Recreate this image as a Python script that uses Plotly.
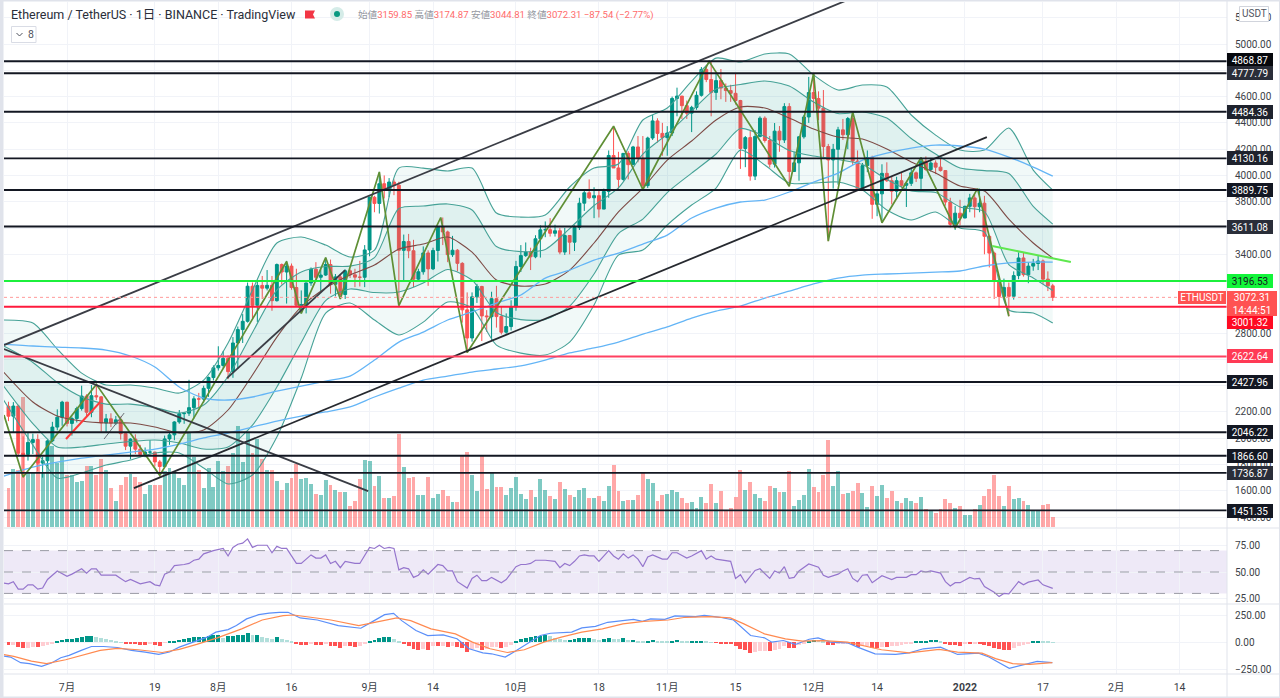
import pandas as pd
import plotly.graph_objects as go

BASE = pd.Timestamp("2021-06-19")
def day(i):
    return BASE + pd.Timedelta(hours=round(float(i) * 24))
def days(seq):
    return [day(i) for i in seq]

OPEN = [2243,2168,2245,1886,1877,1968,1990,1811,1829,1980,2085,2160,
2275,2113,2150,2226,2321,2198,2324,2315,2116,2148,2115,2140,2035,1940,1994,1917,1876,1895,1895,1820,1785,1995,2026,2124,2187,2191,2233,2300,2298,2380,2462,
2536,2554,2608,2507,2725,2827,2890,3157,3012,3163,3142,3164,3047,3322,3265,3310,3147,3012,3017,3182,3286,3225,3242,3322,3172,3228,3094,3274,3244,3226,3225,
3433,3834,3787,3937,3887,3950,3926,3430,3497,3427,3211,3267,3410,3289,3429,3611,3570,3397,3431,3331,2977,2763,3076,3155,2931,2925,3062,2926,2807,2850,
3000,3307,3390,3417,3381,3518,3586,3587,3560,3579,3417,3543,3492,3605,3789,3868,3830,3846,3744,3878,4152,4057,3970,4168,4082,4217,4130,3923,4285,4415,4320,
4288,4323,4586,4604,4531,4474,4518,4610,4807,4730,4632,4722,4665,4646,4625,4570,4205,4288,3995,4297,4436,4266,4086,4337,4270,4524,4030,4096,4294,4445,
4631,4586,4512,4220,4118,4199,4347,4310,4433,4110,3889,4075,4135,3780,3860,4016,3960,3880,3960,3925,3940,4020,3978,4109,4045,4095,4063,4037,3798,3628,3713,
3676,3765,3829,3762,3789,3537,3409,3198,3079,3148,3080,3238,3372,3245,3310,3330,3349,3211,3159.85]
HIGH = [2278,2275,2255,2015,2044,2035,2030,1860,1990,2125,2220,2285,
2275,2165,2240,2400,2335,2405,2410,2322,2185,2190,2170,2165,2045,2000,2030,1950,1930,1985,1895,1835,2020,2045,2130,2215,2195,2445,2320,2345,2400,2470,2555,
2700,2665,2630,2770,2850,2945,3185,3185,3190,3235,3280,3235,3330,3330,3350,3330,3290,3125,3185,3300,3340,3285,3375,3360,3250,3250,3285,3285,3290,3350,3470,
3840,3845,4027,4000,3980,3970,3952,3550,3555,3510,3290,3460,3430,3450,3615,3680,3580,3540,3440,3340,3110,3110,3175,3160,2975,3115,3160,3005,2950,3050,
3350,3470,3490,3450,3545,3620,3650,3675,3625,3600,3600,3545,3620,3830,3890,3970,3910,3890,3900,4190,4375,4180,4170,4185,4225,4300,4300,4295,4460,4435,4400,
4375,4600,4668,4605,4570,4530,4640,4825,4840,4868,4780,4810,4700,4690,4772,4575,4300,4340,4345,4450,4450,4300,4399,4376,4550,4550,4180,4300,4460,4750,
4778,4640,4650,4240,4240,4370,4430,4445,4484,4190,4095,4190,4150,3885,4085,4100,3990,3990,4020,3950,4050,4030,4135,4145,4125,4115,4130,4040,3830,3767,3815,
3770,3860,3855,3900,3845,3450,3420,3235,3215,3185,3270,3415,3415,3340,3365,3390,3360,3270,3174.87]
LOW = [2130,2044,1860,1700,1830,1880,1750,1700,1790,1970,2060,2095,
2090,2020,2120,2210,2160,2160,2290,2050,2040,2085,2100,1990,1910,1840,1880,1855,1855,1875,1785,1718,1775,1950,1985,2110,2110,2170,2150,2230,2270,2315,2440,
2515,2535,2450,2460,2530,2725,2880,2915,2885,3060,3125,2970,3040,3170,3025,3130,3000,2950,2950,3160,3200,3120,3235,3100,3080,3060,3060,3220,3150,3155,3150,
3385,3720,3710,3825,3835,3850,3010,3200,3370,3150,3190,3245,3160,3280,3345,3470,3340,3380,3270,2880,2650,2735,3030,2740,2810,2740,2842,2790,2795,2820,
2970,3265,3380,3280,3370,3375,3530,3535,3535,3400,3395,3400,3425,3585,3730,3820,3675,3680,3745,3830,4060,3890,3960,3970,4080,4100,3890,3905,4270,4250,4150,
4150,4300,4450,4430,4430,4330,4500,4600,4710,4450,4575,4580,4560,4560,4540,4050,4063,3960,3965,4290,4250,4060,4060,4180,4247,3918,4030,3960,4280,4400,
4490,4420,4140,3500,3900,3930,4270,4200,4080,3885,3895,4025,3670,3690,3640,3950,3780,3820,3905,3760,3920,3950,3897,4035,4030,4010,4030,3770,3605,3585,3620,
3675,3720,3680,3720,3400,3300,3060,2995,3055,2928,3055,3210,3230,3180,3275,3280,3175,3120,3044.81]
CLOSE = [2168,2245,1886,1877,1968,1990,1811,1829,1980,2085,2160,2275,
2113,2150,2226,2321,2198,2324,2315,2116,2148,2115,2140,2035,1940,1994,1917,1876,1895,1895,1820,1785,1995,2026,2124,2187,2191,2233,2300,2298,2380,2462,2536,
2554,2608,2507,2725,2827,2890,3157,3012,3163,3142,3164,3047,3322,3265,3310,3147,3012,3017,3182,3286,3225,3242,3322,3172,3228,3094,3274,3244,3226,3225,3433,
3834,3787,3937,3887,3950,3926,3430,3497,3427,3211,3267,3410,3289,3429,3611,3570,3397,3431,3331,2977,2763,3076,3155,2931,2925,3062,2926,2807,2850,3000,
3307,3390,3417,3381,3518,3586,3587,3560,3579,3417,3543,3492,3605,3789,3868,3830,3846,3744,3878,4152,4057,3970,4168,4082,4217,4130,3923,4285,4415,4320,4288,
4323,4586,4604,4531,4474,4518,4610,4807,4730,4632,4722,4665,4646,4625,4570,4205,4288,3995,4297,4436,4266,4086,4337,4270,4524,4030,4096,4294,4445,4631,
4586,4512,4220,4118,4199,4347,4310,4433,4110,3889,4075,4135,3780,3860,4016,3960,3880,3960,3925,3940,4020,3978,4109,4045,4095,4063,4037,3798,3628,3713,3676,
3765,3829,3762,3789,3537,3409,3198,3079,3148,3080,3238,3372,3245,3310,3330,3349,3211,3159.85,3072.31]
VOLUME = [39,58,57,130,55,55,74,54,64,81,64,71,52,52,45,46,61,61,52,68,57,39,26,42,50,53,50,45,33,42,42,42,56,59,55,49,42,94,70,57,39,59,40,66,56,61,74,101,65,94,74,88,68,57,57,46,37,44,49,63,48,49,43,33,32,47,42,37,35,35,21,26,48,67,66,41,51,29,29,31,93,60,49,50,32,32,50,29,33,37,31,25,25,71,75,52,36,72,38,54,40,40,32,39,50,33,28,
37,30,48,37,31,28,45,38,32,30,37,39,29,29,31,26,41,62,36,26,27,27,32,55,48,44,26,32,33,37,35,29,24,25,19,30,24,43,24,36,17,19,30,57,37,45,33,29,26,41,39,35,35,56,21,27,32,58,40,35,52,87,41,56,33,34,36,44,34,20,41,31,42,29,36,26,24,29,26,24,30,18,17,14,18,28,24,19,21,12,12,18,22,31,38,52,31,21,41,28,29,26,22,17,17,22,23,10]

BAND_DAYS = [-1,5,10,15,20,25,30,35,40,45,50,55,60,65,70,75,80,85,90,95,100,105,110,115,120,125,130,135,140,145,150,155,160,165,170,175,180,185,190,195,200,205,210,214]
BB_UPPER = [2900,2877,2679,2496,2405,2405,2382,2344,2443,2725,3128,3486,3532,3470,3379,3432,4056,4056,4034,4056,3714,3683,3699,3912,4056,4087,4422,4513,4718,4893,4863,4924,4924,4764,4650,4688,4673,4460,4307,4193,4193,4361,4041,3889]
BB_INNER_UP = [2702,2577,2424,2314,2260,2260,2234,2192,2253,2470,2805,3128,3266,3307,3310,3375,3748,3767,3783,3737,3459,3420,3437,3596,3771,3905,4163,4315,4490,4658,4692,4719,4680,4559,4471,4483,4437,4281,4163,4056,4037,4015,3764,3630]
BB_MID = [2504,2276,2169,2131,2116,2116,2085,2040,2063,2215,2481,2770,3000,3143,3242,3318,3440,3478,3531,3417,3204,3158,3174,3280,3486,3722,3904,4117,4262,4422,4521,4513,4437,4353,4292,4277,4201,4102,4018,3919,3881,3668,3486,3371]
BB_INNER_LOW = [2398,2112,1933,1933,1956,1975,1987,1964,1918,1934,2100,2390,2729,3048,3136,3109,3113,3181,3284,3204,2957,2903,2904,3006,3250,3558,3668,3870,4018,4163,4357,4296,4190,4148,4121,4083,3969,3882,3870,3760,3725,3322,3220,3124]
BB_LOWER = [2291,1948,1697,1735,1796,1834,1888,1888,1773,1652,1720,2009,2458,2953,3029,2900,2786,2884,3037,2991,2709,2648,2633,2732,3014,3394,3432,3623,3775,3904,4193,4079,3942,3942,3950,3889,3737,3661,3722,3600,3569,2976,2953,2877]
MA_100 = [2717,2702,2694,2687,2671,2626,2542,2390,2306,2291,2314,2359,2397,2435,2473,2595,2732,2808,2900,2961,3029,3090,3219,3280,3356,3409,3478,3546,3676,3752,3798,3813,3874,3950,4018,4117,4170,4208,4231,4224,4201,4140,4064,3995]
MA_200 = [1712,1781,1819,1849,1872,1895,1918,1956,2002,2040,2085,2131,2169,2200,2238,2314,2382,2443,2473,2504,2527,2550,2595,2649,2687,2732,2793,2847,2915,2968,3006,3067,3120,3174,3219,3242,3250,3257,3265,3273,3311,3334,3341,3341]

ZIG_DAYS = [-0.9,3,18,31,57,60,65,68,76,80,88.6,94,124,130,143.6,160,165,168,173,179,187,194,198.6,205]
ZIG_PRICE = [2177,1705,2410,1718,3345,2950,3375,3060,4027,3010,3680,2652,4375,3893,4868,3918,4778,3500,4484,3640,4135,3600,3900,2928]
CHANNEL_UP_DAYS, CHANNEL_UP_PRICE = [-0.9,171.4], [2709,5327]
CHANNEL_LOW_DAYS, CHANNEL_LOW_PRICE = [25.7,200.5], [1621,4292]
CHANNEL_MID_DAYS, CHANNEL_MID_PRICE = [44.8,69], [2458,3280]
FALL_DAYS, FALL_PRICE = [-0.9,73.7], [2679,1598]
SMALL_DAYS, SMALL_PRICE = [19.6,23.7], [1994,2192]
RED_DAYS, RED_PRICE = [11.8,18.8], [1994,2276]
LIME_DAYS, LIME_PRICE = [201.6,217.7], [3463,3341]

LEVELS = [4868.87,4777.79,4484.36,4130.16,3889.75,3611.08,3196.53,3001.32,2622.64,2427.96,2046.22,1866.60,1736.87,1451.35]
LEVEL_COLORS = ["#131722"]*6 + ["#1cf03c","#ff1a3c","#ff4060"] + ["#131722"]*5

RSI_DAYS = [-1,0,1,2,3,4,5,6,7,8,10,12,13,15,16,17,18,19,20,21,22,23,24,25,27,29,30,31,32,33,34,36,37,38,39,40,42,44,45,46,47,48,49,50,51,53,54,55,56,57,59,60,62,63,64,65,66,67,68,69,71,72,74,75,76,77,78,79,80,81,82,83,84,85,86,88,89,90,91,92,94,95,96,97,98,99,101,102,103,104,105,106,107,108,110,112,113,114,115,116,117,118,119,120,121,123,124,125,126,127,128,129,130,131,132,134,135,136,137,139,140,142,143,144,145,148,149,150,151,153,154,156,157,158,159,160,161,162,164,166,167,168,170,171,172,173,174,175,176,177,179,181,182,184,185,186,187,188,189,191,192,193,194,195,197,198,199,200,202,203,204,205,207,208,209,211,212,214]
RSI = [39.7,39,41,34,34,38,38,34,35,43,51,46,48,53,49,53,53,47,47,47,47,44,41,43,39,41,38,37,48,50,56,57,58,61,62,67,70,72,65,73,76,77,81,73,75,75,68,74,72,72,58,58,66,63,63,66,58,60,54,60,58,58,73,72,75,72,73,72,52,54,53,45,47,52,48,57,56,51,51,41,35,44,47,42,42,45,40,43,49,55,57,57,58,61,61,60,54,58,56,60,65,66,65,65,60,70,65,62,67,63,66,62,55,64,66,62,62,68,68,63,65,70,62,65,62,60,44,47.5,40,51.5,53,44,51,49,55,44,45,51,57.5,54.5,47,45,48,51,53,44,41,47,47.5,40,46.5,43,45,45,47.5,47.5,51,50,51,49,41,37,40,40,45,43.5,44,36.5,31,27,30,29.5,41,38,40.5,42.5,38,34.7]
RSI_LEVELS = [70,50,30]

MACD_DAYS = [-1,0.4,2.5,4.3,6.8,8.9,10.7,12.4,14.9,17,19.5,22.3,25.2,28,30.8,33,35,37.9,40.7,42.5,45,46.7,48.8,51.3,53.4,55.5,57.3,59.8,63.3,67.6,72.2,74.6,77.1,78.9,80.6,83.5,85.9,89.1,91.9,94.4,97.2,99,101.8,103.6,105.7,107.4,109,111.1,115.4,117.5,120.3,122.8,125.3,128.1,129.9,131.6,134.5,136.6,140.8,142.6,145.8,148.6,152.1,154.9,156.4,158.8,161.3,164.1,165.9,168.4,171.9,174,177.6,181.8,184.6,187.5,191,194.5,198.8,200.9,205.1,208.6,210.8,213.9]
MACD = [-125,-134,-186,-195,-220,-186,-140,-119,-73,-37,-37,-46,-73,-88,-110,-88,-43,3,49,95,119,156,217,256,271,278,278,226,207,156,131,192,256,268,201,110,64,70,34,-58,-95,-104,-134,-88,-27,18,64,85,95,134,149,186,201,213,195,217,213,244,238,250,232,207,64,43,3,18,-18,30,43,3,-3,-43,-104,-110,-95,-58,-43,-110,-98,-134,-238,-201,-174,-186]
SIGNAL_DAYS = [-1,1.1,4.7,7.8,11.7,15.3,18.8,22.3,26.6,31.5,35,38.6,42.8,47.8,52,56.3,58.4,61.9,66.1,71.8,76,79.6,82.4,86.6,91.6,95.1,98.7,102.2,105.7,109.7,113.3,117.5,121.7,125.9,130.2,135.2,138.7,143.7,147.9,150.7,154.9,159.2,162.7,167,171.9,174.7,178.9,184.6,190.7,194.5,199.5,202.3,205.8,209.3,213.9]
SIGNAL = [-110,-128,-171,-195,-159,-119,-73,-55,-67,-92,-64,-18,43,125,207,247,253,232,207,156,192,226,201,125,79,3,-58,-92,-67,3,49,95,125,171,195,207,232,238,226,171,79,34,12,18,3,-27,-67,-95,-64,-88,-98,-149,-195,-201,-186]
HIST = [-25,-20,-40,-50,-48,-40,-45,-35,-20,-8,12,25,35,35,45,55,60,60,55,38,28,20,10,3,-5,-8,-14,-20,-22,-14,-22,-28,-3,5,15,25,35,45,50,55,55,60,65,70,40,60,60,65,70,85,70,70,55,45,30,50,35,25,10,-5,-25,-25,-15,-25,-25,-15,-30,-30,-50,-30,-30,-40,-30,-15,12,25,45,50,55,30,10,-18,-35,-60,-65,-60,-70,-30,-35,-30,-40,-30,-40,-55,-85,-60,-55,-70,-60,-45,-40,-55,-40,-25,10,30,45,55,60,60,
70,60,40,30,25,25,30,40,40,40,30,25,30,45,35,30,40,20,25,15,5,10,20,15,12,10,15,20,15,5,5,5,15,8,3,-2,-5,-10,-18,-35,-60,-65,-95,-90,-80,-75,-80,-70,-60,-35,-50,-50,-20,-8,10,25,20,5,-25,-25,-10,-8,-5,-25,-45,-35,-30,-55,-55,-40,-40,-35,-30,-20,-15,-5,5,15,15,20,20,15,-5,-25,-25,-30,-10,-10,-8,-8,-25,-30,-55,-60,-70,-70,-50,-30,-20,-10,5,15,8,5,3]

TICK_DAYS = [12,30,43,58,74,87,104,121,135,149,165,178,196,212,227,240]
TICK_TEXT = ["7月","19","8月","16","9月","14","10月","18","11月","15","12月","14","<b>2022</b>","17","2月","14"]
PRICE_TICKS = list(range(1400, 5400, 200))
HIDDEN_PRICE_TICKS = [4800,3600,3200,3000,2600,2400]
RSI_TICKS, RSI_TEXT = [75,50,25], ["75.00","50.00","25.00"]
MACD_TICKS, MACD_TEXT = [250,0,-250], ["250.00","0.00","−250.00"]

GREEN, RED = "#009688", "#ff5252"
TEAL_LINE, GRID = "#46a297", "#f1f3f8"
FONT = 'Roboto, "Noto Sans CJK JP", sans-serif'
W, H = 1280, 698
def px(v): return v / W
def py(v): return 1 - v / H

X_RANGE = [day(-0.9), day(249.7)]
idx = list(range(len(CLOSE)))
dates = days(idx)
fig = go.Figure()

fig.add_trace(go.Bar(x=dates, y=VOLUME, marker=dict(color=[("rgba(0,150,136,.5)" if c >= o else "rgba(255,82,82,.5)") for o, c in zip(OPEN, CLOSE)], line=dict(width=0)),
                     width=[0.8*86400000]*len(idx), xaxis="x", yaxis="y", showlegend=False))
def band(y, fill=None, fc=None, color=TEAL_LINE, w=1.1):
    fig.add_trace(go.Scatter(x=days(BAND_DAYS), y=y, mode="lines", line=dict(color=color, width=w, shape="spline", smoothing=0.7),
                             fill=fill, fillcolor=fc, xaxis="x", yaxis="y2", showlegend=False))
band(BB_LOWER)
band(BB_UPPER, "tonexty", "rgba(0,150,136,.055)")
band(BB_INNER_LOW)
band(BB_INNER_UP, "tonexty", "rgba(0,150,136,.075)")
band(BB_MID, color="#7d4a45")
band(MA_100, color="#64b5f6", w=1.3)
band(MA_200, color="#64b5f6", w=1.3)
fig.add_trace(go.Candlestick(x=dates, open=OPEN, high=HIGH, low=LOW, close=CLOSE, xaxis="x", yaxis="y2", showlegend=False, whiskerwidth=0,
    increasing=dict(line=dict(color=GREEN, width=1), fillcolor=GREEN), decreasing=dict(line=dict(color=RED, width=1), fillcolor=RED)))

def line(d, p, color, w):
    fig.add_trace(go.Scatter(x=days(d), y=p, mode="lines", line=dict(color=color, width=w), xaxis="x", yaxis="y2", showlegend=False))
line(ZIG_DAYS, ZIG_PRICE, "#5f8f35", 1.7)
line(CHANNEL_UP_DAYS, CHANNEL_UP_PRICE, "#3a3d45", 1.8)
line(CHANNEL_LOW_DAYS, CHANNEL_LOW_PRICE, "#26292f", 1.8)
line(CHANNEL_MID_DAYS, CHANNEL_MID_PRICE, "#3a3d45", 1.8)
line(FALL_DAYS, FALL_PRICE, "#3a3d45", 1.8)
line(SMALL_DAYS, SMALL_PRICE, "#6b6e76", 1)
line(RED_DAYS, RED_PRICE, "#ff3b3b", 2)
line(LIME_DAYS, LIME_PRICE, "#5fe84f", 2)
for v, c in zip(LEVELS, LEVEL_COLORS):
    fig.add_trace(go.Scatter(x=X_RANGE, y=[v, v], mode="lines", line=dict(color=c, width=1.9), xaxis="x", yaxis="y2", showlegend=False))
fig.add_trace(go.Scatter(x=X_RANGE, y=[CLOSE[-1]]*2, mode="lines", line=dict(color="#ff9a9a", width=1, dash="dot"), xaxis="x", yaxis="y2", showlegend=False))

fig.add_trace(go.Scatter(x=days(RSI_DAYS), y=RSI, mode="lines", line=dict(color="#9575cd", width=1.2), xaxis="x2", yaxis="y3", showlegend=False))
hcol = []
for i, h in enumerate(HIST):
    prev = HIST[i-1] if i else h
    if h >= 0:
        hcol.append("#009688" if h >= prev else "#b2dfdb")
    else:
        hcol.append("#ff5252" if h <= prev else "#ffcdd2")
fig.add_trace(go.Bar(x=dates, y=HIST, marker=dict(color=hcol, line=dict(width=0)), width=[0.8*86400000]*len(idx), xaxis="x3", yaxis="y4", showlegend=False))
fig.add_trace(go.Scatter(x=days(MACD_DAYS), y=MACD, mode="lines", line=dict(color="#5b8ff9", width=1.2), xaxis="x3", yaxis="y4", showlegend=False))
fig.add_trace(go.Scatter(x=days(SIGNAL_DAYS), y=SIGNAL, mode="lines", line=dict(color="#ff8a50", width=1.2), xaxis="x3", yaxis="y4", showlegend=False))

shapes = []
for v in RSI_LEVELS:
    shapes.append(dict(type="line", xref="x2 domain", x0=0, x1=1, yref="y3", y0=v, y1=v, line=dict(color="#9a9ca5", width=1, dash="dash"), layer="above"))
shapes.append(dict(type="rect", xref="x2 domain", x0=0, x1=1, yref="y3", y0=30, y1=70, fillcolor="rgba(126,87,194,.13)", line=dict(width=0), layer="below"))
def pline(x0, y0, x1, y1, c="#e0e3eb", w=1):
    shapes.append(dict(type="line", xref="paper", yref="paper", x0=px(x0), y0=py(y0), x1=px(x1), y1=py(y1), line=dict(color=c, width=w), layer="above"))
pline(1227, 0, 1227, 698)
pline(4, 528, 1279, 528); pline(4, 604, 1279, 604); pline(4, 674, 1279, 674)
def prect(x0, y0, x1, y1, fill, line_c=None):
    shapes.append(dict(type="rect", xref="paper", yref="paper", x0=px(x0), y0=py(y0), x1=px(x1), y1=py(y1), fillcolor=fill,
                       line=dict(color=line_c or fill, width=1 if line_c else 0), layer="above"))
prect(0, 0, 3.5, 698, "#e0e3eb"); prect(0, 0, 1280, 1.5, "#e0e3eb"); prect(0, 696.5, 1280, 698, "#e0e3eb"); prect(1279, 0, 1280, 698, "#e0e3eb")
shapes.append(dict(type="path", xref="paper", yref="paper", fillcolor="#f23645", line=dict(width=0), layer="above",
    path=f"M {px(305)} {py(10.5)} L {px(315)} {py(10.5)} L {px(313)} {py(14.5)} L {px(315)} {py(18.5)} L {px(305)} {py(18.5)} Z"))
def circle(cx, cy, r, fill):
    shapes.append(dict(type="circle", xref="paper", yref="paper", x0=px(cx-r), x1=px(cx+r), y0=py(cy-r), y1=py(cy+r), fillcolor=fill, line=dict(width=0), layer="above"))
circle(337, 14, 7, "#d5ece8"); circle(337, 14, 3, "#089981")
prect(11.5, 26.5, 36, 42.5, "#ffffff", "#d9dce5")
shapes.append(dict(type="path", xref="paper", yref="paper", line=dict(color="#50535e", width=1), layer="above",
    path=f"M {px(16.5)} {py(33)} L {px(19.5)} {py(36)} L {px(22.5)} {py(33)}"))
prect(1239.5, 6.5, 1268.5, 21.5, "#ffffff", "#d1d4dc")

ann = []
def text(x, y, s, size=11, color="#131722", anchor="left", **kw):
    ann.append(dict(xref="paper", yref="paper", x=px(x), y=py(y), text=s, showarrow=False, xanchor=anchor, yanchor="middle",
                    font=dict(family=FONT, size=size, color=color), **kw))
text(9, 14.5, "Ethereum / TetherUS · 1日 · BINANCE · TradingView", 12.5, "#2a2e39")
dim, rd = "#9598a1", "#ff6b6b"
head = (f'<span style="color:{dim}">始値</span>3159.85 <span style="color:{dim}">高値</span>3174.87 '
        f'<span style="color:{dim}">安値</span>3044.81 <span style="color:{dim}">終値</span>3072.31 −87.54 (−2.77%)')
text(356, 14.5, head, 9.6, rd)
text(26, 34.5, "8", 10.5, "#50535e")
text(1254, 14, "USDT", 10, "#50535e", "center")
def box(yc, h, s, bg, fg="#ffffff", x0=1227, w=46):
    ann.append(dict(xref="paper", yref="paper", x=px(x0), y=py(yc), text=s, showarrow=False, xanchor="left", yanchor="middle", width=w, height=h,
                    bgcolor=bg, borderpad=0, borderwidth=0, align="center", valign="middle", font=dict(family=FONT, size=10, color=fg)))
dark, mid_c = "#131722", "#2a2e39"
for yc, s, bg in [(60,"4868.87","#06080d"),(73,"4777.79",mid_c),(112,"4484.36","#1e222d"),(158,"4130.16","#1e222d"),(190,"3889.75",dark),(226.5,"3611.08",mid_c),
                  (382,"2427.96",dark),(432,"2046.22",dark),(456,"1866.60",dark),(473,"1736.87",mid_c),(511,"1451.35",dark)]:
    box(yc, 14, s, bg)
box(281, 14, "3196.53", "#12f53a", "#131722")
box(303.5, 25, "3072.31<br>14:44:51", "#ff5252", "#ffffff", w=50)
box(322.5, 13, "3001.32", "#ff0a22")
box(356, 14, "2622.64", "#ff3a55")
box(297.5, 13, "ETHUSDT", "#ff5252", "#ffffff", x0=1178, w=48)

D0, D1 = px(4), px(1227)
xcommon = dict(type="date", range=X_RANGE, tickmode="array", tickvals=days(TICK_DAYS), ticktext=TICK_TEXT, showgrid=True, gridcolor=GRID, gridwidth=1,
               zeroline=False, showline=False, ticks="", domain=[D0, D1], rangeslider=dict(visible=False))
def ycommon(tv, tt, rng, top, bot):
    return dict(side="right", tickmode="array", tickvals=tv, ticktext=tt, range=rng, domain=[py(bot), py(top)], showgrid=True, gridcolor=GRID, gridwidth=1,
                zeroline=False, showline=False, ticks="", ticklabelstandoff=7, tickfont=dict(family=FONT, size=10, color="#3c3f48"))
price_text = ["" if v in HIDDEN_PRICE_TICKS else f"{v}.00" for v in PRICE_TICKS]
fig.update_layout(
    width=W, height=H, autosize=False, margin=dict(l=0, r=0, t=0, b=0), paper_bgcolor="#ffffff", plot_bgcolor="#ffffff", showlegend=False,
    barmode="overlay", boxgap=0.15, bargap=0, shapes=shapes, annotations=ann, hovermode=False,
    xaxis=dict(xcommon, anchor="y", showticklabels=False),
    xaxis2=dict(xcommon, anchor="y3", showticklabels=False),
    xaxis3=dict(xcommon, anchor="y4", showticklabels=True, ticklabelstandoff=5, tickfont=dict(family=FONT, size=10.5, color="#3c3f48")),
    yaxis=dict(domain=[py(528), py(2)], range=[-1, 525], showgrid=False, showticklabels=False, zeroline=False, fixedrange=True),
    yaxis2=dict(ycommon(PRICE_TICKS, price_text, [1317, 5320], 2, 528), overlaying="y", anchor="x"),
    yaxis3=dict(ycommon(RSI_TICKS, RSI_TEXT, [20.1, 90.2], 529, 604), anchor="x2"),
    yaxis4=dict(ycommon(MACD_TICKS, MACD_TEXT, [-290, 345], 605, 674), anchor="x3"),
)
fig.write_html("out.html", config=dict(displayModeBar=False),
               post_script="document.body.style.margin='0';document.body.style.overflow='hidden';")
